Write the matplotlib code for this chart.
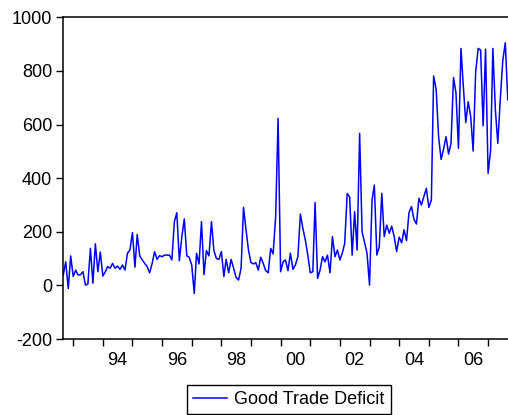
import numpy as np
import pandas as pd
import matplotlib
matplotlib.use('Agg')
import matplotlib.pyplot as plt
import matplotlib.dates as mdates

plt.rcParams['font.family'] = ['Liberation Sans', 'DejaVu Sans']

# Monthly goods trade deficit, Sep 1992 - Sep 2007
start_month = '1992-09-01'
deficit = [
    40, 88, -12, 110, 33, 57, 39, 40, 51, 1,
    5, 138, 8, 155, 51, 124, 35, 51, 70, 64,
    82, 64, 72, 60, 76, 57, 120, 132, 197, 68,
    190, 110, 95, 82, 70, 47, 82, 126, 97, 111,
    107, 113, 113, 113, 95, 238, 271, 92, 182, 248,
    110, 105, 75, -30, 120, 80, 238, 40, 130, 110,
    238, 130, 100, 97, 126, 33, 97, 47, 97, 64,
    30, 20, 64, 291, 207, 132, 85, 80, 85, 57,
    105, 82, 55, 47, 138, 117, 256, 623, 51, 88,
    95, 55, 120, 60, 76, 107, 266, 213, 169, 113,
    47, 51, 309, 26, 57, 107, 88, 113, 47, 182,
    107, 132, 95, 122, 157, 343, 330, 113, 275, 132,
    567, 200, 160, 120, 1, 318, 374, 113, 144, 343,
    182, 225, 194, 221, 182, 126, 180, 159, 207, 167,
    271, 294, 247, 229, 325, 300, 331, 362, 291, 318,
    781, 731, 555, 470, 508, 555, 490, 530, 775, 719,
    511, 884, 747, 607, 685, 629, 501, 797, 884, 878,
    595, 881, 418, 502, 884, 654, 530, 698, 838, 905,
    692,
]
tick_years = list(range(1993, 2008))
label_years = list(range(1994, 2008, 2))
y_ticks = [-200, 0, 200, 400, 600, 800, 1000]

dates = pd.date_range(start_month, periods=len(deficit), freq='MS')

fig = plt.figure(figsize=(5.08, 4.15), dpi=100)
ax = fig.add_axes([63.3 / 508, 1 - 339 / 415, (507.8 - 63.3) / 508, (339 - 17.3) / 415])

ax.plot(dates, deficit, color='#0000ff', lw=1.1, label='Good Trade Deficit')

ax.set_xlim(dates[0], dates[-1])
ax.set_ylim(-200, 1000)
ax.set_yticks(y_ticks)
ax.set_yticklabels([str(v) for v in y_ticks], fontsize=13)

# year-start ticks, labels centred in the middle of each year
ax.set_xticks([pd.Timestamp(f'{y}-01-01') for y in tick_years])
ax.set_xticklabels([])
ax.set_xticks([pd.Timestamp(f'{y}-07-01') for y in label_years], minor=True)
ax.set_xticklabels([f'{y % 100:02d}' for y in label_years], minor=True, fontsize=13)
ax.tick_params(axis='x', which='minor', length=0, pad=9)
ax.tick_params(axis='x', which='major', length=5, width=1)
ax.tick_params(axis='y', length=5, width=1, pad=3)

for side in ['left', 'bottom', 'top']:
    ax.spines[side].set_linewidth(1.1)
ax.spines['right'].set_visible(False)

fig.legend(loc='center', bbox_to_anchor=(288.8 / 508, 1 - 399.5 / 415),
           fontsize=13, frameon=True, fancybox=False, edgecolor='black',
           framealpha=1, handlelength=1.9, borderpad=0.35, handletextpad=0.4)

fig.savefig('out.png', dpi=100)
